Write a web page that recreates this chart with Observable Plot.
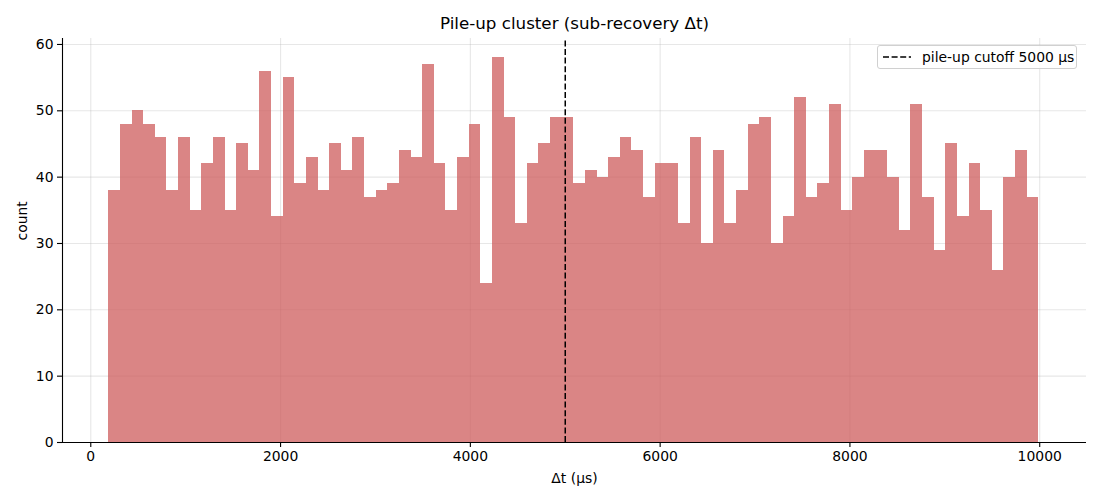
<!DOCTYPE html>
<html>
<head>
<meta charset="utf-8">
<script src="https://cdn.jsdelivr.net/npm/d3@7"></script>
<script src="https://cdn.jsdelivr.net/npm/@observablehq/plot@0.6"></script>
<style>
  html, body { margin: 0; padding: 0; background: #fff; }
  #wrap { position: relative; width: 1100px; height: 500px; font-family: "DejaVu Sans", sans-serif; }
  #legend { position: absolute; left: 877px; top: 45px; width: 200px; height: 24px;
    border: 1px solid #d0d0d0; border-radius: 3px; background: rgba(255,255,255,0.85);
    display: flex; align-items: center; font-size: 13.9px; color: #000; box-sizing: border-box; }
  #legend svg { margin-left: 5px; margin-right: 11px; }
</style>
</head>
<body>
<div id="wrap"></div>
<script>
const title = "Pile-up cluster (sub-recovery Δt)";
const xLabel = "Δt (µs)";
const yLabel = "count";
const binStart = 190;
const binWidth = 122.5;
const counts = [38,48,50,48,46,38,46,35,42,46,35,45,41,56,34,55,39,43,38,45,
                41,46,37,38,39,44,43,57,42,35,43,48,24,58,49,33,42,45,49,49,
                39,41,40,43,46,44,37,42,42,33,46,30,44,33,38,48,49,30,34,52,
                37,39,51,35,40,44,44,40,32,51,37,29,45,34,42,35,26,40,44,37];
const cutoff = 5000;
const legendText = "pile-up cutoff 5000 µs";
const xTicks = [0, 2000, 4000, 6000, 8000, 10000];
const yTicks = [0, 10, 20, 30, 40, 50, 60];
const xDomain = [-298, 10493];
const yDomain = [0, 60.9];

const bins = counts.map((c, i) => ({x1: binStart + i * binWidth, x2: binStart + (i + 1) * binWidth, count: c}));

const plot = Plot.plot({
  width: 1100,
  height: 500,
  marginLeft: 62,
  marginRight: 14,
  marginTop: 38,
  marginBottom: 58,
  style: {fontFamily: "DejaVu Sans, sans-serif", fontSize: "13.9px", color: "#000", background: "#fff"},
  x: {domain: xDomain},
  y: {domain: yDomain},
  marks: [
    Plot.gridX(xTicks, {stroke: "#b0b0b0", strokeOpacity: 0.3, strokeWidth: 1.1}),
    Plot.gridY(yTicks, {stroke: "#b0b0b0", strokeOpacity: 0.3, strokeWidth: 1.1}),
    Plot.rectY(bins, {x1: "x1", x2: "x2", y: "count", fill: "indianred", fillOpacity: 0.75, inset: 0, shapeRendering: "crispEdges"}),
    Plot.ruleX([cutoff], {y1: yDomain[0], y2: yDomain[1], stroke: "#000", strokeWidth: 1.5, strokeDasharray: "6,2.6"}),
    Plot.axisX(xTicks, {tickFormat: d3.format("d"), tickSize: 5, tickPadding: 4, label: null, strokeWidth: 1.1}),
    Plot.axisY(yTicks, {tickFormat: d3.format("d"), tickSize: 5, tickPadding: 4, label: null, strokeWidth: 1.1}),
    Plot.ruleY([yDomain[0]], {stroke: "#000", strokeWidth: 1.1}),
    Plot.ruleX([xDomain[0]], {y1: yDomain[0], y2: yDomain[1], stroke: "#000", strokeWidth: 1.1}),
    Plot.text([xLabel], {frameAnchor: "bottom", lineAnchor: "middle", dy: 36, fontSize: 13.9}),
    Plot.text([yLabel], {frameAnchor: "left", lineAnchor: "middle", rotate: -90, dx: -40, fontSize: 13.9}),
    Plot.text([title], {frameAnchor: "top", lineAnchor: "middle", dy: -15, fontSize: 16.7})
  ]
});

const wrap = document.getElementById("wrap");
wrap.appendChild(plot);
const legend = document.createElement("div");
legend.id = "legend";
legend.innerHTML = '<svg width="28" height="4"><line x1="0" y1="2" x2="28" y2="2" stroke="#000" stroke-width="1.5" stroke-dasharray="6,2.6"/></svg><span></span>';
legend.querySelector("span").textContent = legendText;
wrap.appendChild(legend);
</script>
</body>
</html>
